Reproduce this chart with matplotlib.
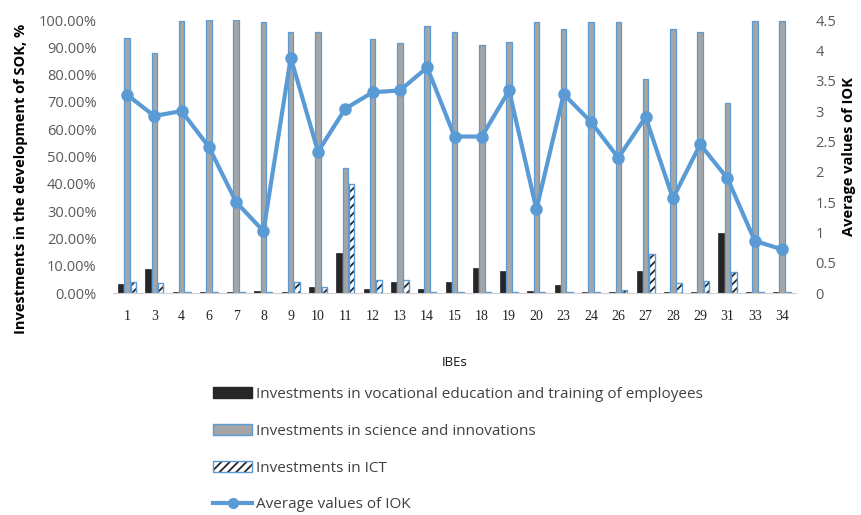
import matplotlib
matplotlib.use("Agg")
import matplotlib.pyplot as plt
import numpy as np
from matplotlib.ticker import PercentFormatter
from matplotlib.lines import Line2D
from matplotlib.patches import Patch

categories = ["1", "3", "4", "6", "7", "8", "9", "10", "11", "12", "13", "14", "15",
              "18", "19", "20", "23", "24", "26", "27", "28", "29", "31", "33", "34"]
vocational = [3.3, 8.7, 0.3, 0.3, 0.3, 0.6, 0.3, 2.1, 14.5, 1.6, 3.9, 1.6, 3.9,
              9.0, 7.9, 0.6, 2.8, 0.2, 0.2, 7.9, 0.2, 0.2, 22.1, 0.2, 0.2]
science = [93.3, 87.8, 99.7, 100.0, 100.0, 99.2, 95.5, 95.8, 45.9, 93.2, 91.5, 97.9, 95.8,
           90.7, 91.8, 99.4, 96.8, 99.4, 99.2, 78.3, 96.8, 95.5, 69.7, 99.7, 99.7]
ict = [3.9, 3.5, 0.2, 0.2, 0.2, 0.2, 4.1, 2.3, 39.8, 4.8, 4.8, 0.3, 0.3,
       0.3, 0.3, 0.3, 0.3, 0.3, 1.1, 14.2, 3.5, 4.5, 7.8, 0.2, 0.2]
iok = [3.27, 2.92, 3.00, 2.41, 1.50, 1.02, 3.88, 2.33, 3.04, 3.31, 3.34, 3.72, 2.58,
       2.58, 3.34, 1.38, 3.28, 2.82, 2.23, 2.90, 1.56, 2.45, 1.89, 0.86, 0.72]

plt.rcParams['font.family'] = ['Open Sans', 'DejaVu Sans']
plt.rcParams['hatch.linewidth'] = 1.3

fig = plt.figure(figsize=(8.61, 5.15), dpi=100)
ax = fig.add_axes([0.1316, 0.431, 0.7926, 0.530])
x = np.arange(len(categories))
w = 0.2
blue = "#5b9bd5"
dark = "#262626"
ax.bar(x - 0.23, vocational, w, color=dark, edgecolor=dark, linewidth=0.5, zorder=2)
ax.bar(x, science, w, color="#a5a5a5", edgecolor=blue, linewidth=0.9, zorder=2)
# ICT: hatch in dark, outline in blue
ax.bar(x + 0.23, ict, w, color="white", edgecolor=dark, hatch="////", linewidth=0, zorder=2)
ax.bar(x + 0.23, ict, w, fill=False, edgecolor=blue, linewidth=1.0, zorder=2.1)
ax.set_xlim(-0.5, len(categories) - 0.5)
ax.set_ylim(0, 100)
ax.set_yticks(np.arange(0, 101, 10))
ax.yaxis.set_major_formatter(PercentFormatter(decimals=2))
ax.set_xticks(x)
ax.set_xticklabels(categories, family="Liberation Serif", fontsize=10, color="#222222")
ax.tick_params(axis="x", length=0, pad=12)
ax.tick_params(axis="y", length=0, pad=12, labelsize=10.5, labelcolor="#595959")
for s in ["top", "right", "left"]:
    ax.spines[s].set_visible(False)
ax.spines["bottom"].set_color("#d0d0d0")
ax.set_ylabel("Investments in the development of SOK, %", fontsize=10.5, fontweight="bold")
ax.yaxis.set_label_coords(-0.125, 0.42)
ax.set_xlabel("IBEs", fontsize=9.5, color="#111111", labelpad=24)

ax2 = ax.twinx()
ax2.plot(x, iok, color=blue, linewidth=3.0, marker="o", markersize=8, zorder=3)
ax2.set_ylim(0, 4.5)
ax2.set_yticks(np.arange(0, 4.51, 0.5))
ax2.set_yticklabels(["0", "0.5", "1", "1.5", "2", "2.5", "3", "3.5", "4", "4.5"])
ax2.tick_params(axis="y", length=0, pad=14, labelsize=10.5, labelcolor="#595959")
for s in ["top", "right", "left", "bottom"]:
    ax2.spines[s].set_visible(False)
ax2.set_ylabel("Average values of IOK", fontsize=10.5, fontweight="bold")
ax2.yaxis.set_label_coords(1.068, 0.5)

handles = [Patch(facecolor=dark, edgecolor=dark),
           Patch(facecolor="#a5a5a5", edgecolor=blue),
           (Patch(facecolor="white", edgecolor=dark, hatch="////", linewidth=0),
            Patch(fill=False, edgecolor=blue, linewidth=1.0)),
           Line2D([], [], color=blue, linewidth=3.0, marker="o", markersize=7)]
labels = ["Investments in vocational education and training of employees",
          "Investments in science and innovations",
          "Investments in ICT",
          "Average values of IOK"]
leg = fig.legend(handles, labels, loc="upper left", bbox_to_anchor=(0.240, 1 - 381 / 515),
                 frameon=False, fontsize=11, labelcolor="#404040", handlelength=2.6,
                 handleheight=0.7, handletextpad=0.2, labelspacing=1.42, borderaxespad=0)

fig.savefig("out.png", dpi=100)
